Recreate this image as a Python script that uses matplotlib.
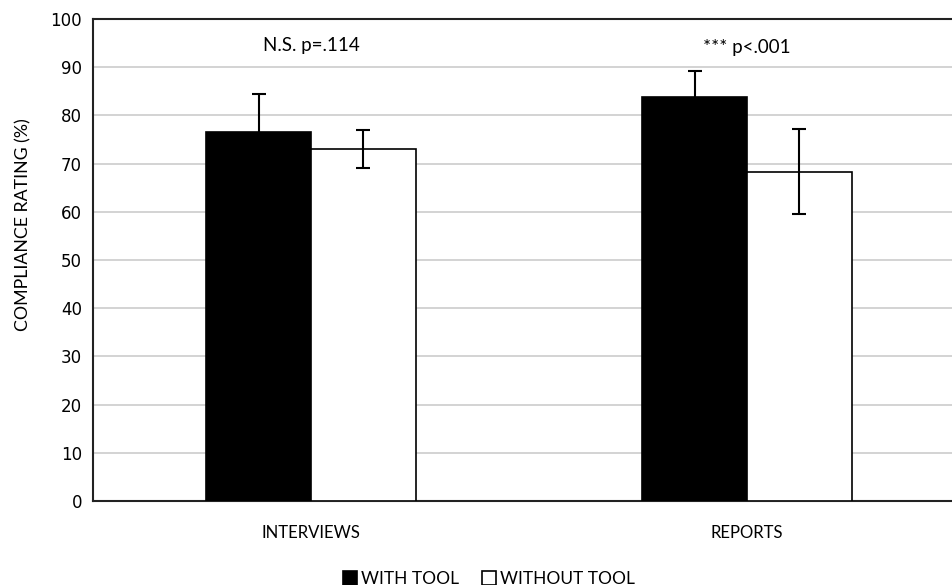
import matplotlib
matplotlib.use("Agg")
import matplotlib.pyplot as plt
import numpy as np

categories = ["INTERVIEWS", "REPORTS"]
with_tool = [76.6, 83.8]
with_tool_err = [7.8, 5.4]
without_tool = [73.0, 68.3]
without_tool_err = [4.0, 8.8]
annotations = ["N.S. p=.114", "*** p<.001"]
yticks = list(range(0, 101, 10))

plt.rcParams['font.family'] = ['Lato', 'DejaVu Sans']

fig = plt.figure(figsize=(9.53, 5.85), dpi=100)
ax = fig.add_axes([93/953, 1-501/585, 872/953, (501-19)/585])

x = np.arange(len(categories))
w = 0.24
ax.bar(x - w/2, with_tool, w, color='black', edgecolor='black', linewidth=1.2,
       label='WITH TOOL', zorder=3)
ax.bar(x + w/2, without_tool, w, color='white', edgecolor='black', linewidth=1.2,
       label='WITHOUT TOOL', zorder=3)
ax.errorbar(x - w/2, with_tool, yerr=with_tool_err, fmt='none', ecolor='black',
            elinewidth=1.5, capsize=5, capthick=1.5, zorder=2)
ax.errorbar(x + w/2, without_tool, yerr=without_tool_err, fmt='none', ecolor='black',
            elinewidth=1.5, capsize=5, capthick=1.5, zorder=4)

for xi, t, yv in zip(x, annotations, [94.4, 94.0]):
    ax.text(xi, yv, t, ha='center', va='center', fontsize=13.5)

ax.set_xlim(-0.5, 1.5)
ax.set_ylim(0, 100)
ax.set_yticks(yticks)
ax.set_yticklabels([str(v) for v in yticks], family='DejaVu Sans', fontsize=12)
ax.set_xticks(x)
ax.set_xticklabels(categories, fontsize=12)
ax.tick_params(axis='y', length=0, pad=8)
ax.tick_params(axis='x', length=0, pad=17)
ax.yaxis.grid(True, color='#d0d0d0', linewidth=1.3, zorder=0)
ax.set_axisbelow(True)
for s in ['left', 'bottom', 'top']:
    ax.spines[s].set_color('#222222')
    ax.spines[s].set_linewidth(1.5)
ax.spines['right'].set_visible(False)
ax.set_ylabel("COMPLIANCE RATING (%)", fontsize=12.8)
ax.yaxis.set_label_coords(-0.071, 0.573)

fig.legend(loc='lower center', bbox_to_anchor=(0.513, -0.03), ncol=2, frameon=False,
           fontsize=12.5, handlelength=0.8, handleheight=0.8, handletextpad=0.25,
           columnspacing=1.3)

fig.savefig("out.png", dpi=100)
